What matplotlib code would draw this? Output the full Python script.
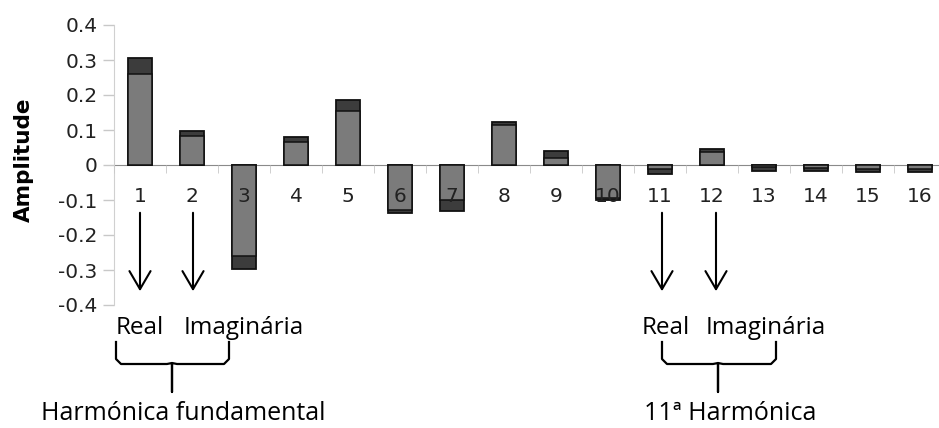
import numpy as np
import matplotlib.pyplot as plt
from matplotlib.patches import FancyArrowPatch
from matplotlib.lines import Line2D

# harmonic index and the two stacked components
harmonics = list(range(1, 17))
total = [0.305, 0.098, -0.296, 0.079, 0.185, -0.136, -0.130, 0.122,
         0.039, -0.100, -0.026, 0.046, -0.016, -0.016, -0.021, -0.021]
inner = [0.261, 0.082, -0.261, 0.066, 0.155, -0.128, -0.099, 0.114,
         0.020, -0.093, -0.010, 0.036, -0.005, -0.008, -0.011, -0.011]
yticks = [-0.4, -0.3, -0.2, -0.1, 0, 0.1, 0.2, 0.3, 0.4]

W, H = 939, 428
fig = plt.figure(figsize=(W / 100, H / 100), dpi=100)
ax = fig.add_axes([114 / W, 1 - 305 / H, (946 - 114) / W, 280 / H])

x = np.arange(len(harmonics))
ax.bar(x, total, width=0.45, color='#3c3c3c', edgecolor='#111111', linewidth=1.3, zorder=1)
ax.bar(x, inner, width=0.45, color='#7b7b7b', edgecolor='#111111', linewidth=1.1, zorder=1.5)

ax.set_xlim(-0.5, len(harmonics) - 0.5)
ax.set_ylim(-0.4, 0.4)
ax.set_yticks(yticks)
ax.set_yticklabels(['-0.4', '-0.3', '-0.2', '-0.1', '0', '0.1', '0.2', '0.3', '0.4'],
                   fontsize=14.5, family='DejaVu Sans', color='#222222')
ax.tick_params(axis='y', length=8, color='#c8c8c8', width=1, pad=4)

ax.spines['top'].set_visible(False)
ax.spines['right'].set_visible(False)
ax.spines['left'].set_color('#d0d0d0')
ax.spines['bottom'].set_position(('data', 0))
ax.spines['bottom'].set_color('#8a8a8a')
ax.spines['bottom'].set_zorder(0.5)

ax.set_xticks(x)
ax.set_xticklabels([str(h) for h in harmonics], fontsize=14.5, family='DejaVu Sans', color='#222222')
ax.tick_params(axis='x', which='major', length=0, pad=16)
ax.set_xticks(np.arange(len(harmonics) + 1) - 0.5, minor=True)
ax.tick_params(axis='x', which='minor', length=6, color='#c8c8c8', direction='out')
ax.xaxis.set_zorder(5)


def px(xp, yp):
    return (xp / W, 1 - yp / H)


fig.text(*px(24, 160), 'Amplitude', rotation=90, ha='center', va='center',
         fontsize=15.5, fontweight='bold', family='DejaVu Sans')

# arrows pointing to the real and imaginary parts
for xp in [140, 193, 662, 716]:
    arr = FancyArrowPatch(px(xp, 210), px(xp, 294), transform=fig.transFigure,
                          arrowstyle='->,head_length=0.65,head_width=0.38',
                          mutation_scale=20, color='black', linewidth=1.5)
    fig.patches.append(arr)

lab_font = dict(family='Open Sans', fontsize=17.5, color='black', va='center')
fig.text(*px(116, 328), 'Real', ha='left', **lab_font)
fig.text(*px(184, 328), 'Imaginária', ha='left', **lab_font)
fig.text(*px(642, 328), 'Real', ha='left', **lab_font)
fig.text(*px(706, 328), 'Imaginária', ha='left', **lab_font)


def brace(x0, x1, xm):
    top, mid, bot, r = 342, 364, 392, 5
    xs = [x0, x0, x0 + r, xm - r, xm, xm, xm, xm + r, x1 - r, x1, x1]
    ys = [top, mid - r, mid, mid, mid - 1, bot, mid - 1, mid, mid, mid - r, top]
    pts = [px(a, b) for a, b in zip(xs, ys)]
    fig.lines.append(Line2D([p[0] for p in pts], [p[1] for p in pts],
                            transform=fig.transFigure, color='black', linewidth=1.6))


brace(116, 229, 172)
brace(662, 776, 718)

big_font = dict(lab_font, fontsize=18)
fig.text(*px(183, 414), 'Harmónica fundamental', ha='center', **big_font)
fig.text(*px(730, 414), '11ª Harmónica', ha='center', **big_font)

fig.savefig('out.png', dpi=100)
